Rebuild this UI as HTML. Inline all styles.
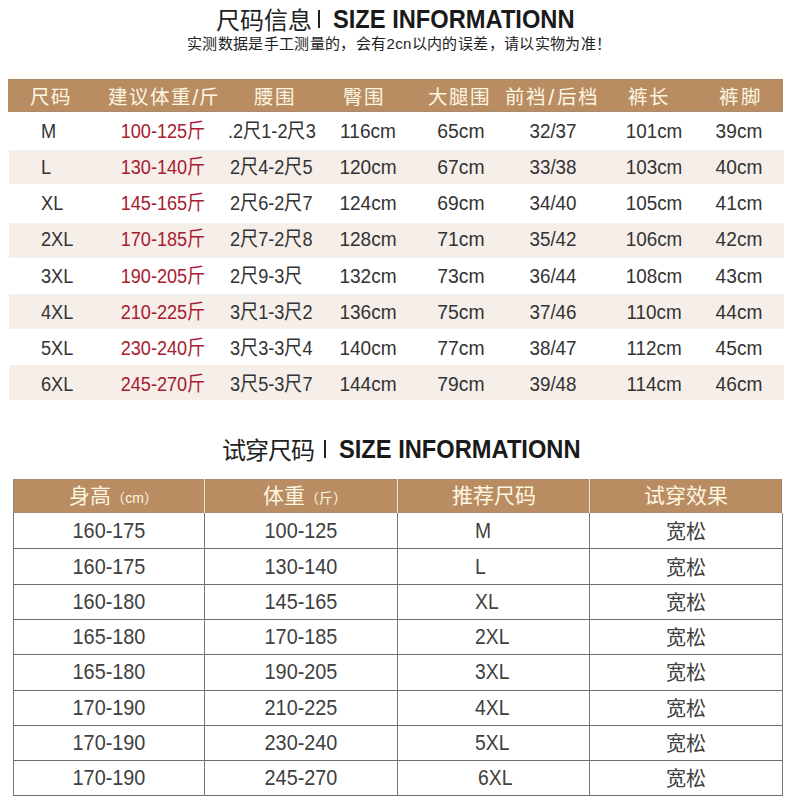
<!DOCTYPE html><html lang="zh-CN"><head><meta charset="utf-8"><title>size</title><style>
*{margin:0;padding:0;box-sizing:border-box}
html,body{width:800px;height:800px;background:#fff;overflow:hidden}
body{position:relative;font-family:"Liberation Sans",sans-serif;color:#333}
.a{position:absolute;white-space:nowrap;transform-origin:0 50%}
.c{position:absolute;width:200px;text-align:center;white-space:nowrap;transform-origin:50% 50%}
.t1{font-size:24px;color:#222;line-height:1}
.en{font-weight:bold;font-size:25px;color:#1a1a1a;line-height:1;transform:scaleX(.947)}
.bar{position:absolute;background:#222}
.sub{font-size:15px;color:#222;line-height:1;letter-spacing:.35px}
.h1{position:absolute;left:8px;top:79px;width:775px;height:33px;background:#b98d61;border-top:1px solid #a88b70;border-bottom:1px solid #a88b70}
.hc{font-size:19.5px;color:#fdf6e3;line-height:33px;letter-spacing:1.2px}
.sl{font-size:22px;margin:0 -0.5px;vertical-align:top}
.st{position:absolute;left:9px;width:774.5px;height:34.5px;background:#f6eee9}
.d1{font-size:20px;line-height:36px;color:#333}
.red{color:#a81b30}
.h2{position:absolute;left:13px;top:479px;width:769px;height:34px;background:#b98d61;border-top:1px solid #a48b72;border-bottom:1px solid #a58a6e;border-left:1px solid #8f8478;border-right:1px solid #8f8478}
.vl{position:absolute;width:1px;background:#767676}
.hl{position:absolute;height:1px;background:#6e6e6e}
.vh{position:absolute;width:1px;background:#f8e6bc;box-shadow:-1px 0 #ab8d6c,1px 0 #a58c64}
.hc2{font-size:21px;color:#fdf6e3;line-height:34px}
.sm{font-size:14px}
.d2{font-size:22px;line-height:35px;color:#404040}
</style></head><body>
<div class="a t1" style="left:216px;top:8.7px">尺码信息</div>
<div class="bar" style="left:318px;top:10px;width:2px;height:18px"></div>
<div class="a en" style="left:333.2px;top:6.8px">SIZE INFORMATIONN</div>
<div class="a sub" style="left:187px;top:36px">实测数据是手工测量的，会有2cn以内的误差，请以实物为准！</div>
<div style="position:absolute;left:8px;top:69px;width:775px;height:10px;background:linear-gradient(#fff,#fffbf0)"></div>
<div class="h1"></div>
<div class="c hc" style="left:-49px;top:81px">尺码</div>
<div class="c hc" style="left:64px;top:81px">建议体重<span class="sl">/</span>斤</div>
<div class="c hc" style="left:175.3px;top:81px">腰围</div>
<div class="c hc" style="left:263.8px;top:81px">臀围</div>
<div class="c hc" style="left:359.5px;top:81px">大腿围</div>
<div class="c hc" style="left:452px;top:81px">前裆<span class="sl" style="margin:0 1.2px">/</span>后档</div>
<div class="c hc" style="left:548.8px;top:81px">裤长</div>
<div class="c hc" style="left:640.7px;top:81px">裤脚</div>
<div class="a d1" style="left:40.5px;top:112.5px;transform:scaleX(0.91)">M</div>
<div class="c d1 red" style="left:63.400000000000006px;top:112.5px;transform:scaleX(0.905)">100-125斤</div>
<div class="a d1" style="left:227.5px;top:112.5px;transform:scaleX(0.907)">.2尺1-2尺3</div>
<div class="c d1" style="left:268px;top:112.5px;transform:scaleX(0.953)">116cm</div>
<div class="c d1" style="left:360.5px;top:112.5px;transform:scaleX(0.967)">65cm</div>
<div class="c d1" style="left:452.79999999999995px;top:112.5px;transform:scaleX(0.94)">32/37</div>
<div class="c d1" style="left:554px;top:112.5px;transform:scaleX(0.943)">101cm</div>
<div class="c d1" style="left:639.4px;top:112.5px;transform:scaleX(0.956)">39cm</div>
<div class="st" style="top:149.75px"></div>
<div class="a d1" style="left:40.5px;top:148.75px;transform:scaleX(0.91)">L</div>
<div class="c d1 red" style="left:63.400000000000006px;top:148.75px;transform:scaleX(0.905)">130-140斤</div>
<div class="a d1" style="left:229.5px;top:148.75px;transform:scaleX(0.907)">2尺4-2尺5</div>
<div class="c d1" style="left:268px;top:148.75px;transform:scaleX(0.953)">120cm</div>
<div class="c d1" style="left:360.5px;top:148.75px;transform:scaleX(0.967)">67cm</div>
<div class="c d1" style="left:452.79999999999995px;top:148.75px;transform:scaleX(0.94)">33/38</div>
<div class="c d1" style="left:554px;top:148.75px;transform:scaleX(0.943)">103cm</div>
<div class="c d1" style="left:639.4px;top:148.75px;transform:scaleX(0.956)">40cm</div>
<div class="a d1" style="left:40.5px;top:185.0px;transform:scaleX(0.91)">XL</div>
<div class="c d1 red" style="left:63.400000000000006px;top:185.0px;transform:scaleX(0.905)">145-165斤</div>
<div class="a d1" style="left:229.5px;top:185.0px;transform:scaleX(0.907)">2尺6-2尺7</div>
<div class="c d1" style="left:268px;top:185.0px;transform:scaleX(0.953)">124cm</div>
<div class="c d1" style="left:360.5px;top:185.0px;transform:scaleX(0.967)">69cm</div>
<div class="c d1" style="left:452.79999999999995px;top:185.0px;transform:scaleX(0.94)">34/40</div>
<div class="c d1" style="left:554px;top:185.0px;transform:scaleX(0.943)">105cm</div>
<div class="c d1" style="left:639.4px;top:185.0px;transform:scaleX(0.956)">41cm</div>
<div class="st" style="top:223px"></div>
<div class="a d1" style="left:40.5px;top:221.25px;transform:scaleX(0.91)">2XL</div>
<div class="c d1 red" style="left:63.400000000000006px;top:221.25px;transform:scaleX(0.905)">170-185斤</div>
<div class="a d1" style="left:229.5px;top:221.25px;transform:scaleX(0.907)">2尺7-2尺8</div>
<div class="c d1" style="left:268px;top:221.25px;transform:scaleX(0.953)">128cm</div>
<div class="c d1" style="left:360.5px;top:221.25px;transform:scaleX(0.967)">71cm</div>
<div class="c d1" style="left:452.79999999999995px;top:221.25px;transform:scaleX(0.94)">35/42</div>
<div class="c d1" style="left:554px;top:221.25px;transform:scaleX(0.943)">106cm</div>
<div class="c d1" style="left:639.4px;top:221.25px;transform:scaleX(0.956)">42cm</div>
<div class="a d1" style="left:40.5px;top:257.5px;transform:scaleX(0.91)">3XL</div>
<div class="c d1 red" style="left:63.400000000000006px;top:257.5px;transform:scaleX(0.905)">190-205斤</div>
<div class="a d1" style="left:229.5px;top:257.5px;transform:scaleX(0.907)">2尺9-3尺</div>
<div class="c d1" style="left:268px;top:257.5px;transform:scaleX(0.953)">132cm</div>
<div class="c d1" style="left:360.5px;top:257.5px;transform:scaleX(0.967)">73cm</div>
<div class="c d1" style="left:452.79999999999995px;top:257.5px;transform:scaleX(0.94)">36/44</div>
<div class="c d1" style="left:554px;top:257.5px;transform:scaleX(0.943)">108cm</div>
<div class="c d1" style="left:639.4px;top:257.5px;transform:scaleX(0.956)">43cm</div>
<div class="st" style="top:294.25px"></div>
<div class="a d1" style="left:40.5px;top:293.75px;transform:scaleX(0.91)">4XL</div>
<div class="c d1 red" style="left:63.400000000000006px;top:293.75px;transform:scaleX(0.905)">210-225斤</div>
<div class="a d1" style="left:229.5px;top:293.75px;transform:scaleX(0.907)">3尺1-3尺2</div>
<div class="c d1" style="left:268px;top:293.75px;transform:scaleX(0.953)">136cm</div>
<div class="c d1" style="left:360.5px;top:293.75px;transform:scaleX(0.967)">75cm</div>
<div class="c d1" style="left:452.79999999999995px;top:293.75px;transform:scaleX(0.94)">37/46</div>
<div class="c d1" style="left:554px;top:293.75px;transform:scaleX(0.943)">110cm</div>
<div class="c d1" style="left:639.4px;top:293.75px;transform:scaleX(0.956)">44cm</div>
<div class="a d1" style="left:40.5px;top:330.0px;transform:scaleX(0.91)">5XL</div>
<div class="c d1 red" style="left:63.400000000000006px;top:330.0px;transform:scaleX(0.905)">230-240斤</div>
<div class="a d1" style="left:229.5px;top:330.0px;transform:scaleX(0.907)">3尺3-3尺4</div>
<div class="c d1" style="left:268px;top:330.0px;transform:scaleX(0.953)">140cm</div>
<div class="c d1" style="left:360.5px;top:330.0px;transform:scaleX(0.967)">77cm</div>
<div class="c d1" style="left:452.79999999999995px;top:330.0px;transform:scaleX(0.94)">38/47</div>
<div class="c d1" style="left:554px;top:330.0px;transform:scaleX(0.943)">112cm</div>
<div class="c d1" style="left:639.4px;top:330.0px;transform:scaleX(0.956)">45cm</div>
<div class="st" style="top:365px"></div>
<div class="a d1" style="left:40.5px;top:366.25px;transform:scaleX(0.91)">6XL</div>
<div class="c d1 red" style="left:63.400000000000006px;top:366.25px;transform:scaleX(0.905)">245-270斤</div>
<div class="a d1" style="left:229.5px;top:366.25px;transform:scaleX(0.907)">3尺5-3尺7</div>
<div class="c d1" style="left:268px;top:366.25px;transform:scaleX(0.953)">144cm</div>
<div class="c d1" style="left:360.5px;top:366.25px;transform:scaleX(0.967)">79cm</div>
<div class="c d1" style="left:452.79999999999995px;top:366.25px;transform:scaleX(0.94)">39/48</div>
<div class="c d1" style="left:554px;top:366.25px;transform:scaleX(0.943)">114cm</div>
<div class="c d1" style="left:639.4px;top:366.25px;transform:scaleX(0.956)">46cm</div>
<div class="a t1" style="left:222px;top:438.8px;letter-spacing:-0.9px">试穿尺码</div>
<div class="bar" style="left:324px;top:440px;width:2px;height:18px"></div>
<div class="a en" style="left:339.2px;top:437px">SIZE INFORMATIONN</div>
<div class="h2"></div>
<div class="c hc2" style="left:13.5px;top:478.7px">身高<span class="sm">（cm）</span></div>
<div class="c hc2" style="left:205.25px;top:478.7px">体重<span class="sm">（斤）</span></div>
<div class="c hc2" style="left:393.5px;top:478.7px">推荐尺码</div>
<div class="c hc2" style="left:585.75px;top:478.7px">试穿效果</div>
<div class="vh" style="left:204px;top:479px;height:34px"></div>
<div class="vh" style="left:397px;top:479px;height:34px"></div>
<div class="vh" style="left:589px;top:479px;height:34px"></div>
<div class="hl" style="left:13px;top:548px;width:769px"></div>
<div class="hl" style="left:13px;top:584px;width:769px"></div>
<div class="hl" style="left:13px;top:619px;width:769px"></div>
<div class="hl" style="left:13px;top:654px;width:769px"></div>
<div class="hl" style="left:13px;top:690px;width:769px"></div>
<div class="hl" style="left:13px;top:725px;width:769px"></div>
<div class="hl" style="left:13px;top:760px;width:769px"></div>
<div class="hl" style="left:13px;top:795px;width:769px"></div>
<div class="vl" style="left:13px;top:513px;height:283px"></div>
<div class="vl" style="left:204px;top:513px;height:283px"></div>
<div class="vl" style="left:397px;top:513px;height:283px"></div>
<div class="vl" style="left:589px;top:513px;height:283px"></div>
<div class="vl" style="left:782px;top:513px;height:283px"></div>
<div class="c d2" style="left:8.5px;top:513.25px;transform:scaleX(.902)">160-175</div>
<div class="c d2" style="left:200.75px;top:513.25px;transform:scaleX(.902)">100-125</div>
<div class="a d2" style="left:475px;top:513.25px;transform:scaleX(.878)">M</div>
<div class="c d2" style="left:585.75px;top:515.25px;font-size:20px">宽松</div>
<div class="c d2" style="left:8.5px;top:548.50px;transform:scaleX(.902)">160-175</div>
<div class="c d2" style="left:200.75px;top:548.50px;transform:scaleX(.902)">130-140</div>
<div class="a d2" style="left:475px;top:548.50px;transform:scaleX(.878)">L</div>
<div class="c d2" style="left:585.75px;top:550.50px;font-size:20px">宽松</div>
<div class="c d2" style="left:8.5px;top:583.75px;transform:scaleX(.902)">160-180</div>
<div class="c d2" style="left:200.75px;top:583.75px;transform:scaleX(.902)">145-165</div>
<div class="a d2" style="left:475px;top:583.75px;transform:scaleX(.878)">XL</div>
<div class="c d2" style="left:585.75px;top:585.75px;font-size:20px">宽松</div>
<div class="c d2" style="left:8.5px;top:619.00px;transform:scaleX(.902)">165-180</div>
<div class="c d2" style="left:200.75px;top:619.00px;transform:scaleX(.902)">170-185</div>
<div class="a d2" style="left:475px;top:619.00px;transform:scaleX(.878)">2XL</div>
<div class="c d2" style="left:585.75px;top:621.00px;font-size:20px">宽松</div>
<div class="c d2" style="left:8.5px;top:654.25px;transform:scaleX(.902)">165-180</div>
<div class="c d2" style="left:200.75px;top:654.25px;transform:scaleX(.902)">190-205</div>
<div class="a d2" style="left:475px;top:654.25px;transform:scaleX(.878)">3XL</div>
<div class="c d2" style="left:585.75px;top:656.25px;font-size:20px">宽松</div>
<div class="c d2" style="left:8.5px;top:689.50px;transform:scaleX(.902)">170-190</div>
<div class="c d2" style="left:200.75px;top:689.50px;transform:scaleX(.902)">210-225</div>
<div class="a d2" style="left:475px;top:689.50px;transform:scaleX(.878)">4XL</div>
<div class="c d2" style="left:585.75px;top:691.50px;font-size:20px">宽松</div>
<div class="c d2" style="left:8.5px;top:724.75px;transform:scaleX(.902)">170-190</div>
<div class="c d2" style="left:200.75px;top:724.75px;transform:scaleX(.902)">230-240</div>
<div class="a d2" style="left:475px;top:724.75px;transform:scaleX(.878)">5XL</div>
<div class="c d2" style="left:585.75px;top:726.75px;font-size:20px">宽松</div>
<div class="c d2" style="left:8.5px;top:760.00px;transform:scaleX(.902)">170-190</div>
<div class="c d2" style="left:200.75px;top:760.00px;transform:scaleX(.902)">245-270</div>
<div class="a d2" style="left:478px;top:760.00px;transform:scaleX(.878)">6XL</div>
<div class="c d2" style="left:585.75px;top:762.00px;font-size:20px">宽松</div>
</body></html>
